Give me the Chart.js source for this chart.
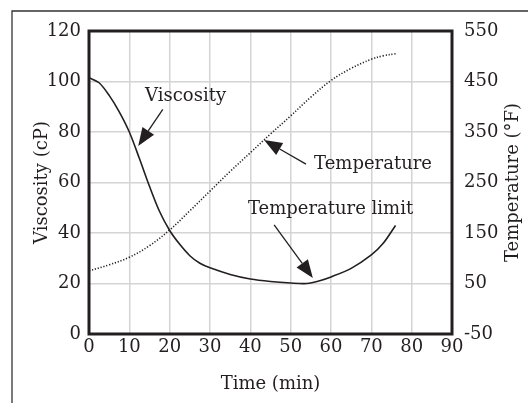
<!DOCTYPE html>
<html>
<head>
<meta charset="utf-8">
<script src="https://cdn.jsdelivr.net/npm/chart.js@4/dist/chart.umd.min.js"></script>
<style>
  body { margin: 0; background: #fff; }
  canvas { display: block; }
</style>
</head>
<body>
<canvas id="myChart" width="528" height="403"></canvas>
<script>
// *********
// * Data  *
// *********
const viscTime = [0, 2.5, 5, 7.5, 10, 12.5, 15, 17.5, 20, 22.5, 25, 27.5, 30, 35, 40, 45, 50, 54, 57, 60, 65, 70, 73, 76];
const viscosity = [101.5, 99.5, 94.5, 88, 80, 69.5, 58.5, 48.5, 41, 35.5, 31, 28, 26.2, 23.6, 21.8, 20.8, 20.2, 20, 21, 22.6, 26, 31.3, 36, 43];

const tempTime = [0, 5, 10, 15, 20, 25, 30, 35, 40, 45, 50, 55, 60, 65, 70, 73, 76];
const temperature = [75, 87, 102, 125, 156, 194, 233, 272, 309, 346, 382, 419, 452, 476, 494, 501, 505];

const timeTicks = [0, 10, 20, 30, 40, 50, 60, 70, 80, 90];
const viscTicks = [0, 20, 40, 60, 80, 100, 120];
const tempTicks = [-50, 50, 150, 250, 350, 450, 550];

// labels: [text, time, viscosity], arrows: [fromTime, fromVisc, toTime, toVisc]
const notes = [
    { text: 'Viscosity', at: [13.9, 94], arrow: [18.3, 89, 12.2, 74.5] },
    { text: 'Temperature', at: [55.8, 67], arrow: [53.8, 67.3, 43.4, 76.8] },
    { text: 'Temperature limit', at: [39.4, 49.2], arrow: [45.9, 43.2, 55.5, 22.2] }
];

const ink = '#231f20';
const fontFamily = '"DejaVu Serif", serif';

function toPoints(xs, ys) {
    return xs.map((x, i) => ({ x: x, y: ys[i] }));
}

// ***********
// * Plugins *
// ***********
const framePlugin = {
    id: 'frame',
    beforeDraw(chart) {
        const ctx = chart.ctx;
        ctx.save();
        ctx.strokeStyle = '#333';
        ctx.lineWidth = 1.3;
        ctx.beginPath();
        ctx.moveTo(12, 403);
        ctx.lineTo(12, 11);
        ctx.lineTo(528, 11);
        ctx.stroke();
        ctx.restore();
    },
    afterDatasetsDraw(chart) {
        const { ctx, chartArea, scales } = chart;
        ctx.save();
        ctx.strokeStyle = ink;
        ctx.lineWidth = 3;
        ctx.strokeRect(chartArea.left, chartArea.top, chartArea.right - chartArea.left, chartArea.bottom - chartArea.top);

        ctx.font = '18px ' + fontFamily;
        ctx.fillStyle = ink;
        ctx.textBaseline = 'middle';
        ctx.textAlign = 'left';
        notes.forEach(note => {
            const tx = scales.x.getPixelForValue(note.at[0]);
            const ty = scales.y.getPixelForValue(note.at[1]);
            ctx.fillText(note.text, tx, ty);

            const x1 = scales.x.getPixelForValue(note.arrow[0]);
            const y1 = scales.y.getPixelForValue(note.arrow[1]);
            const x2 = scales.x.getPixelForValue(note.arrow[2]);
            const y2 = scales.y.getPixelForValue(note.arrow[3]);
            const ang = Math.atan2(y2 - y1, x2 - x1);
            const len = 18, half = 7;
            const bx = x2 - len * Math.cos(ang);
            const by = y2 - len * Math.sin(ang);
            ctx.lineWidth = 1.3;
            ctx.strokeStyle = ink;
            ctx.beginPath();
            ctx.moveTo(x1, y1);
            ctx.lineTo(bx, by);
            ctx.stroke();
            ctx.beginPath();
            ctx.moveTo(x2, y2);
            ctx.lineTo(bx + half * Math.sin(ang), by - half * Math.cos(ang));
            ctx.lineTo(bx - half * Math.sin(ang), by + half * Math.cos(ang));
            ctx.closePath();
            ctx.fill();
        });

        // right axis title reads bottom-to-top like the left one
        const r = scales.y2;
        ctx.translate(r.right - 15, (chartArea.top + chartArea.bottom) / 2);
        ctx.rotate(-Math.PI / 2);
        ctx.textAlign = 'center';
        ctx.fillText('Temperature (°F)', 0, 0);
        ctx.restore();
    }
};

// *********
// * Chart *
// *********
const tickFont = { family: fontFamily, size: 18 };
const titleFont = { family: fontFamily, size: 18 };

const config = {
    type: 'scatter',
    data: {
        datasets: [{
            label: 'Viscosity',
            data: toPoints(viscTime, viscosity),
            yAxisID: 'y',
            showLine: true,
            borderColor: ink,
            borderWidth: 1.6,
            pointRadius: 0,
            tension: 0.3
        }, {
            label: 'Temperature',
            data: toPoints(tempTime, temperature),
            yAxisID: 'y2',
            showLine: true,
            borderColor: ink,
            borderWidth: 1.6,
            borderDash: [1.2, 1.8],
            pointRadius: 0,
            tension: 0.4
        }]
    },
    options: {
        responsive: false,
        animation: false,
        layout: { padding: { top: 31, left: 0, right: 0, bottom: 0 } },
        plugins: {
            legend: { display: false },
            tooltip: { enabled: false }
        },
        scales: {
            x: {
                type: 'linear',
                min: 0,
                max: 90,
                afterBuildTicks: axis => { axis.ticks = timeTicks.map(v => ({ value: v })); },
                afterFit: axis => { axis.height = 69; },
                grid: { color: '#d4d4d4', lineWidth: 1.5, drawTicks: false },
                border: { display: false },
                ticks: { color: ink, font: tickFont, padding: 3, maxRotation: 0 },
                title: { display: true, text: 'Time (min)', color: ink, font: titleFont, padding: { top: 8, bottom: 8 } }
            },
            y: {
                position: 'left',
                min: 0,
                max: 120,
                afterBuildTicks: axis => { axis.ticks = viscTicks.map(v => ({ value: v })); },
                afterFit: axis => { axis.width = 89; },
                grid: { color: '#d4d4d4', lineWidth: 1.5, drawTicks: false },
                border: { display: false },
                ticks: { color: ink, font: tickFont, padding: 8 },
                title: { display: true, text: 'Viscosity (cP)', color: ink, font: titleFont, padding: { top: 32, bottom: 32 } }
            },
            y2: {
                position: 'right',
                min: -50,
                max: 550,
                afterBuildTicks: axis => { axis.ticks = tempTicks.map(v => ({ value: v })); },
                afterFit: axis => { axis.width = 76; },
                grid: { display: false, drawTicks: false },
                border: { display: false },
                ticks: { color: ink, font: tickFont, padding: 12 }
            }
        }
    },
    plugins: [framePlugin]
};

const chart = new Chart(document.getElementById('myChart'), config);
</script>
</body>
</html>
